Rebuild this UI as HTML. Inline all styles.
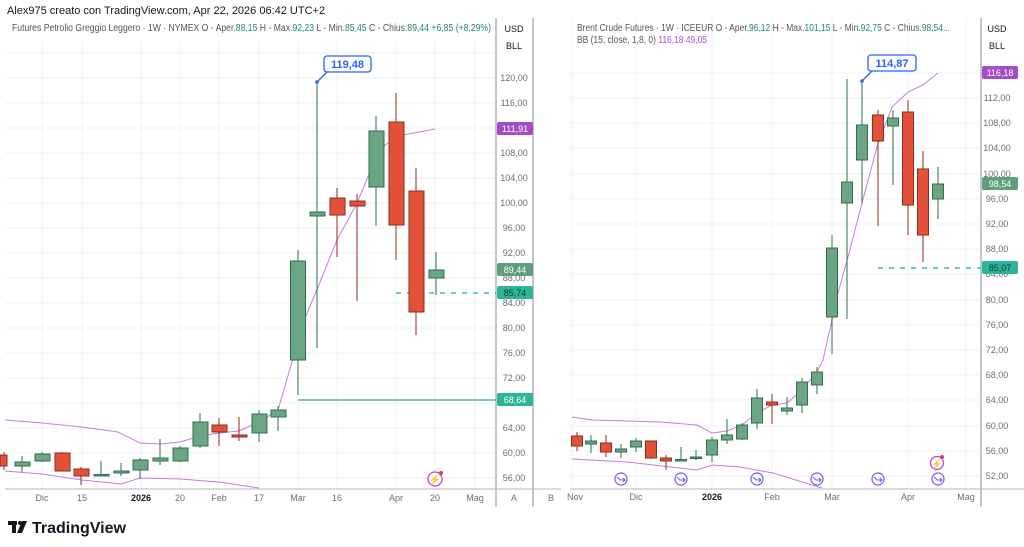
<!DOCTYPE html>
<html><head><meta charset="utf-8"><style>
html,body{margin:0;padding:0;background:#fff;}
svg{display:block;font-family:"Liberation Sans",sans-serif;}
</style></head><body>
<svg width="1024" height="547" viewBox="0 0 1024 547" xmlns="http://www.w3.org/2000/svg">
<rect width="1024" height="547" fill="#fff"/>
<text x="7" y="14" font-size="11" fill="#131722">Alex975 creato con TradingView.com, Apr 22, 2026 06:42 UTC+2</text>

<!-- LEFT grid -->
<g stroke="#eef0f4" stroke-width="1">
<line x1="5" x2="496" y1="53" y2="53"/><line x1="5" x2="496" y1="78" y2="78"/><line x1="5" x2="496" y1="103" y2="103"/><line x1="5" x2="496" y1="128" y2="128"/><line x1="5" x2="496" y1="153" y2="153"/><line x1="5" x2="496" y1="178" y2="178"/><line x1="5" x2="496" y1="203" y2="203"/><line x1="5" x2="496" y1="228" y2="228"/><line x1="5" x2="496" y1="253" y2="253"/><line x1="5" x2="496" y1="278" y2="278"/><line x1="5" x2="496" y1="303" y2="303"/><line x1="5" x2="496" y1="328" y2="328"/><line x1="5" x2="496" y1="353" y2="353"/><line x1="5" x2="496" y1="378" y2="378"/><line x1="5" x2="496" y1="403" y2="403"/><line x1="5" x2="496" y1="428" y2="428"/><line x1="5" x2="496" y1="453" y2="453"/><line x1="5" x2="496" y1="478" y2="478"/>
<line x1="42" x2="42" y1="40" y2="488"/><line x1="82" x2="82" y1="40" y2="488"/><line x1="141" x2="141" y1="40" y2="488"/><line x1="180" x2="180" y1="40" y2="488"/><line x1="219" x2="219" y1="40" y2="488"/><line x1="259" x2="259" y1="40" y2="488"/><line x1="298" x2="298" y1="40" y2="488"/><line x1="337" x2="337" y1="40" y2="488"/><line x1="396" x2="396" y1="40" y2="488"/><line x1="435" x2="435" y1="40" y2="488"/><line x1="475" x2="475" y1="40" y2="488"/>
</g>
<line x1="496" x2="496" y1="18" y2="507" stroke="#8a8e99"/>
<line x1="533" x2="533" y1="18" y2="507" stroke="#8a8e99"/>
<line x1="5" x2="561" y1="489" y2="489" stroke="#b2b5be"/>
<text x="12" y="31" font-size="10" fill="#555" textLength="479" lengthAdjust="spacingAndGlyphs"><tspan>Futures Petrolio Greggio Leggero · 1W · NYMEX  O - Aper.</tspan><tspan fill="#22896b">88,15</tspan><tspan>  H - Max.</tspan><tspan fill="#22896b">92,23</tspan><tspan>  L - Min.</tspan><tspan fill="#22896b">85,45</tspan><tspan>  C - Chius.</tspan><tspan fill="#22896b">89,44  +6,85 (+8,29%)</tspan></text>
<g font-size="9" fill="#131722" text-anchor="middle"><text x="514" y="32">USD</text><text x="514" y="49">BLL</text></g>
<g font-size="9" fill="#6a6d78" text-anchor="middle">
<text x="514" y="81">120,00</text><text x="514" y="106">116,00</text><text x="514" y="156">108,00</text><text x="514" y="181">104,00</text><text x="514" y="206">100,00</text><text x="514" y="231">96,00</text><text x="514" y="256">92,00</text><text x="514" y="281">88,00</text><text x="514" y="306">84,00</text><text x="514" y="331">80,00</text><text x="514" y="356">76,00</text><text x="514" y="381">72,00</text><text x="514" y="431">64,00</text><text x="514" y="456">60,00</text><text x="514" y="481">56,00</text>
<text x="42" y="501">Dic</text><text x="82" y="501">15</text><text x="141" y="501" font-weight="bold" fill="#131722">2026</text><text x="180" y="501">20</text><text x="219" y="501">Feb</text><text x="259" y="501">17</text><text x="298" y="501">Mar</text><text x="337" y="501">16</text><text x="396" y="501">Apr</text><text x="435" y="501">20</text><text x="475" y="501">Mag</text>
<text x="514" y="501">A</text><text x="551" y="501">B</text>
</g>
<!-- left BB -->
<polyline fill="none" stroke="#c77ddb" stroke-width="1" points="5,420 42,423 82,427 118,432 140,443 160,444 180,442 200,436 219,433 239,431 259,422 278,410 292,362 305,318 318,287 337,240 357,203 370,172 385,145 403,135 435,129"/>
<polyline fill="none" stroke="#c77ddb" stroke-width="1" points="5,471 42,474 82,480 121,484 140,478 180,479 219,482 259,488"/>
<!-- left lines -->
<line x1="298" x2="496" y1="400" y2="400" stroke="#22ab94" stroke-width="1.3"/>
<line x1="396" x2="496" y1="293" y2="293" stroke="#22ab94" stroke-width="1.2" stroke-dasharray="5,6"/>
<!-- left candles -->
<g stroke-width="1">
<g stroke="#8a2d1e" fill="#e4513a"><line x1="4" x2="4" y1="452" y2="470"/><rect x="0" y="455" width="7" height="11"/></g>
<g stroke="#2f6e4c" fill="#6ba584">
<line x1="22" x2="22" y1="456" y2="472"/><rect x="15" y="462" width="15" height="4"/>
<line x1="42" x2="42" y1="452" y2="462"/><rect x="35" y="454" width="15" height="7"/>
<line x1="101" x2="101" y1="461" y2="476"/><rect x="94" y="474.5" width="15" height="1.5"/>
<line x1="121" x2="121" y1="463" y2="476"/><rect x="114" y="471" width="15" height="2"/>
<line x1="140" x2="140" y1="458" y2="479"/><rect x="133" y="460" width="15" height="10"/>
<line x1="160" x2="160" y1="439" y2="465"/><rect x="153" y="458" width="15" height="3"/>
<line x1="180" x2="180" y1="446" y2="462"/><rect x="173" y="448" width="15" height="13"/>
<line x1="200" x2="200" y1="413" y2="448"/><rect x="193" y="422" width="15" height="24"/>
<line x1="259" x2="259" y1="410" y2="442"/><rect x="252" y="414" width="15" height="19"/>
<line x1="278" x2="278" y1="406" y2="431"/><rect x="271" y="410" width="15" height="7"/>
<line x1="298" x2="298" y1="250" y2="395"/><rect x="290.5" y="261" width="15" height="99"/>
<line x1="317" x2="317" y1="82" y2="348"/><rect x="310" y="212" width="15" height="4"/>
<line x1="376" x2="376" y1="116" y2="226"/><rect x="369" y="131" width="15" height="56"/>
<line x1="436" x2="436" y1="252" y2="295"/><rect x="429" y="270" width="15" height="8"/>
</g>
<g stroke="#8a2d1e" fill="#e4513a">
<line x1="62" x2="62" y1="452" y2="471"/><rect x="55" y="453" width="15" height="18"/>
<line x1="81" x2="81" y1="467" y2="485"/><rect x="74" y="469" width="15" height="7"/>
<line x1="219" x2="219" y1="418" y2="446"/><rect x="212" y="425" width="15" height="7"/>
<line x1="239" x2="239" y1="417" y2="441"/><rect x="232" y="435" width="15" height="2"/>
<line x1="337" x2="337" y1="188" y2="257"/><rect x="330" y="198" width="15" height="17"/>
<line x1="357" x2="357" y1="194" y2="301"/><rect x="350" y="201" width="15" height="5"/>
<line x1="396" x2="396" y1="93" y2="260"/><rect x="389" y="122" width="15" height="103"/>
<line x1="416" x2="416" y1="168" y2="335"/><rect x="409" y="191" width="15" height="121"/>
</g>
</g>
<!-- left callout -->
<circle cx="317" cy="82" r="1.8" fill="#2962ff"/>
<path d="M317,82 L327,72" stroke="#2962ff" stroke-width="1.3"/>
<rect x="324" y="56" width="47" height="16" rx="3" fill="#fff" stroke="#2962ff" stroke-width="1.3"/>
<text x="347.5" y="68" font-size="11" font-weight="bold" fill="#2962ff" text-anchor="middle">119,48</text>
<!-- left price labels -->
<g font-size="9" text-anchor="middle" fill="#fff">
<rect x="497" y="122" width="36" height="13" rx="2" fill="#a44bc7"/><text x="515" y="132">111,91</text>
<rect x="497" y="263" width="36" height="13" rx="2" fill="#5e9e7b"/><text x="515" y="273">89,44</text>
<rect x="497" y="286" width="36" height="13" rx="2" fill="#2bb59b"/><text x="515" y="296" fill="#0d3b30">85,74</text>
<rect x="497" y="393" width="36" height="13" rx="2" fill="#2bb59b"/><text x="515" y="403">68,64</text>
</g>
<circle cx="435" cy="479" r="7" fill="#fff" stroke="#b04bd8" stroke-width="1.3"/>
<text x="435" y="483" font-size="10" fill="#b04bd8" text-anchor="middle">⚡</text>
<circle cx="441" cy="473" r="2" fill="#f23645"/>

<!-- RIGHT grid -->
<g stroke="#eef0f4" stroke-width="1">
<line x1="570" x2="981" y1="73" y2="73"/><line x1="570" x2="981" y1="98" y2="98"/><line x1="570" x2="981" y1="123" y2="123"/><line x1="570" x2="981" y1="148" y2="148"/><line x1="570" x2="981" y1="174" y2="174"/><line x1="570" x2="981" y1="199" y2="199"/><line x1="570" x2="981" y1="224" y2="224"/><line x1="570" x2="981" y1="249" y2="249"/><line x1="570" x2="981" y1="274" y2="274"/><line x1="570" x2="981" y1="300" y2="300"/><line x1="570" x2="981" y1="325" y2="325"/><line x1="570" x2="981" y1="350" y2="350"/><line x1="570" x2="981" y1="375" y2="375"/><line x1="570" x2="981" y1="400" y2="400"/><line x1="570" x2="981" y1="426" y2="426"/><line x1="570" x2="981" y1="451" y2="451"/><line x1="570" x2="981" y1="476" y2="476"/>
<line x1="572" x2="572" y1="18" y2="489"/><line x1="636" x2="636" y1="18" y2="489"/><line x1="712" x2="712" y1="18" y2="489"/><line x1="772" x2="772" y1="18" y2="489"/><line x1="832" x2="832" y1="18" y2="489"/><line x1="908" x2="908" y1="18" y2="489"/><line x1="966" x2="966" y1="18" y2="489"/>
</g>
<line x1="981" x2="981" y1="18" y2="507" stroke="#8a8e99"/>
<line x1="570" x2="1024" y1="489" y2="489" stroke="#b2b5be"/>
<text x="577" y="31" font-size="10" fill="#555" textLength="373" lengthAdjust="spacingAndGlyphs"><tspan>Brent Crude Futures · 1W · ICEEUR  O - Aper.</tspan><tspan fill="#22896b">96,12</tspan><tspan>  H - Max.</tspan><tspan fill="#22896b">101,15</tspan><tspan>  L - Min.</tspan><tspan fill="#22896b">92,75</tspan><tspan>  C - Chius.</tspan><tspan fill="#22896b">98,54...</tspan></text>
<text x="577" y="43" font-size="10" fill="#555" textLength="130" lengthAdjust="spacingAndGlyphs">BB (15, close, 1,8, 0)  <tspan fill="#b04bd8">116,18  49,05</tspan></text>
<g font-size="9" fill="#131722" text-anchor="middle"><text x="997" y="32">USD</text><text x="997" y="49">BLL</text></g>
<g font-size="9" fill="#6a6d78" text-anchor="middle">
<text x="997" y="101">112,00</text><text x="997" y="126">108,00</text><text x="997" y="151">104,00</text><text x="997" y="177">100,00</text><text x="997" y="202">96,00</text><text x="997" y="227">92,00</text><text x="997" y="252">88,00</text><text x="997" y="277">84,00</text><text x="997" y="303">80,00</text><text x="997" y="328">76,00</text><text x="997" y="353">72,00</text><text x="997" y="378">68,00</text><text x="997" y="403">64,00</text><text x="997" y="429">60,00</text><text x="997" y="454">56,00</text><text x="997" y="479">52,00</text>
<text x="575" y="500">Nov</text><text x="636" y="500">Dic</text><text x="712" y="500" font-weight="bold" fill="#131722">2026</text><text x="772" y="500">Feb</text><text x="832" y="500">Mar</text><text x="908" y="500">Apr</text><text x="966" y="500">Mag</text>
</g>
<polyline fill="none" stroke="#c77ddb" stroke-width="1" points="572,417 592,420 660,422 697,425 712,433 727,431 742,425 757,413 772,405 787,403 800,392 817,372 823,360 838,293 848,257 862,203 877,147 892,107 908,92 923,85 938,73"/>
<polyline fill="none" stroke="#c77ddb" stroke-width="1" points="572,459 627,462 697,470 712,465 740,467 773,473 822,488"/>
<line x1="878" x2="981" y1="268" y2="268" stroke="#22ab94" stroke-width="1.2" stroke-dasharray="5,6"/>
<g stroke-width="1">
<g stroke="#2f6e4c" fill="#6ba584">
<line x1="591" x2="591" y1="435" y2="453"/><rect x="585.5" y="441" width="11" height="3"/>
<line x1="621" x2="621" y1="444" y2="458"/><rect x="615.5" y="449" width="11" height="3"/>
<line x1="636" x2="636" y1="438" y2="452"/><rect x="630.5" y="441" width="11" height="6"/>
<line x1="681" x2="681" y1="447" y2="461"/><rect x="675.5" y="459.5" width="11" height="1.5"/>
<line x1="696" x2="696" y1="450" y2="460"/><rect x="690.5" y="457" width="11" height="1.5"/>
<line x1="712" x2="712" y1="437" y2="462"/><rect x="706.5" y="440" width="11" height="15"/>
<line x1="727" x2="727" y1="419" y2="444"/><rect x="721.5" y="435" width="11" height="5"/>
<line x1="742" x2="742" y1="423" y2="440"/><rect x="736.5" y="425" width="11" height="14"/>
<line x1="757" x2="757" y1="389" y2="429"/><rect x="751.5" y="398" width="11" height="25"/>
<line x1="787" x2="787" y1="397" y2="415"/><rect x="781.5" y="408" width="11" height="3"/>
<line x1="802" x2="802" y1="378" y2="413"/><rect x="796.5" y="382" width="11" height="23"/>
<line x1="817" x2="817" y1="367" y2="394"/><rect x="811.5" y="372" width="11" height="13"/>
<line x1="832" x2="832" y1="235" y2="354"/><rect x="826.5" y="248" width="11" height="69"/>
<line x1="847" x2="847" y1="79" y2="319"/><rect x="841.5" y="182" width="11" height="21"/>
<line x1="862" x2="862" y1="81" y2="204"/><rect x="856.5" y="125" width="11" height="35"/>
<line x1="893" x2="893" y1="110" y2="185"/><rect x="887.5" y="118" width="11" height="8"/>
<line x1="938" x2="938" y1="167" y2="219"/><rect x="932.5" y="184" width="11" height="15"/>
</g>
<g stroke="#8a2d1e" fill="#e4513a">
<line x1="577" x2="577" y1="432" y2="451"/><rect x="571.5" y="436" width="11" height="10"/>
<line x1="606" x2="606" y1="435" y2="457"/><rect x="600.5" y="443" width="11" height="9"/>
<line x1="651" x2="651" y1="441" y2="459"/><rect x="645.5" y="441" width="11" height="17"/>
<line x1="666" x2="666" y1="455" y2="470"/><rect x="660.5" y="458" width="11" height="3"/>
<line x1="772" x2="772" y1="394" y2="424"/><rect x="766.5" y="402" width="11" height="3"/>
<line x1="878" x2="878" y1="110" y2="226"/><rect x="872.5" y="115" width="11" height="26"/>
<line x1="908" x2="908" y1="100" y2="235"/><rect x="902.5" y="112" width="11" height="93"/>
<line x1="923" x2="923" y1="151" y2="262"/><rect x="917.5" y="169" width="11" height="66"/>
</g>
</g>
<circle cx="862" cy="81" r="1.8" fill="#2962ff"/>
<path d="M862,81 L872,71" stroke="#2962ff" stroke-width="1.3"/>
<rect x="868" y="55" width="48" height="16" rx="3" fill="#fff" stroke="#2962ff" stroke-width="1.3"/>
<text x="892" y="67" font-size="11" font-weight="bold" fill="#2962ff" text-anchor="middle">114,87</text>
<g font-size="9" text-anchor="middle" fill="#fff">
<rect x="982" y="66" width="36" height="13" rx="2" fill="#a44bc7"/><text x="1000" y="76">116,18</text>
<rect x="982" y="177" width="36" height="13" rx="2" fill="#5e9e7b"/><text x="1000" y="187">98,54</text>
<rect x="982" y="261" width="36" height="13" rx="2" fill="#2bb59b"/><text x="1000" y="271" fill="#0d3b30">85,07</text>
</g>
<g fill="#fff" stroke="#6a5cff" stroke-width="1.2">
<circle cx="621" cy="479" r="6"/><circle cx="681" cy="479" r="6"/><circle cx="757" cy="479" r="6"/><circle cx="817" cy="479" r="6"/><circle cx="878" cy="479" r="6"/><circle cx="938" cy="479" r="6"/>
</g>
<g stroke="#6a5cff" stroke-width="1" fill="none">
<path d="M617,477 L620,480 L625,480 M623,478 L625,480 L623,482"/><path d="M677,477 L680,480 L685,480 M683,478 L685,480 L683,482"/><path d="M753,477 L756,480 L761,480 M759,478 L761,480 L759,482"/><path d="M813,477 L816,480 L821,480 M819,478 L821,480 L819,482"/><path d="M874,477 L877,480 L882,480 M880,478 L882,480 L880,482"/><path d="M934,477 L937,480 L942,480 M940,478 L942,480 L940,482"/>
</g>
<circle cx="937" cy="463" r="6.5" fill="#fff" stroke="#b04bd8" stroke-width="1.3"/>
<text x="937" y="467" font-size="9" fill="#b04bd8" text-anchor="middle">⚡</text>
<circle cx="942" cy="457" r="2" fill="#f23645"/>

<!-- logo -->
<g fill="#131722">
<rect x="8" y="521" width="9" height="4"/><rect x="12" y="521" width="4" height="12"/>
<circle cx="20" cy="523" r="2"/><path d="M22,521 L27,521 L22,533 L17,533 Z"/>
</g>
<text x="32" y="533" font-size="16" font-weight="bold" fill="#131722">TradingView</text>
</svg>
</body></html>
